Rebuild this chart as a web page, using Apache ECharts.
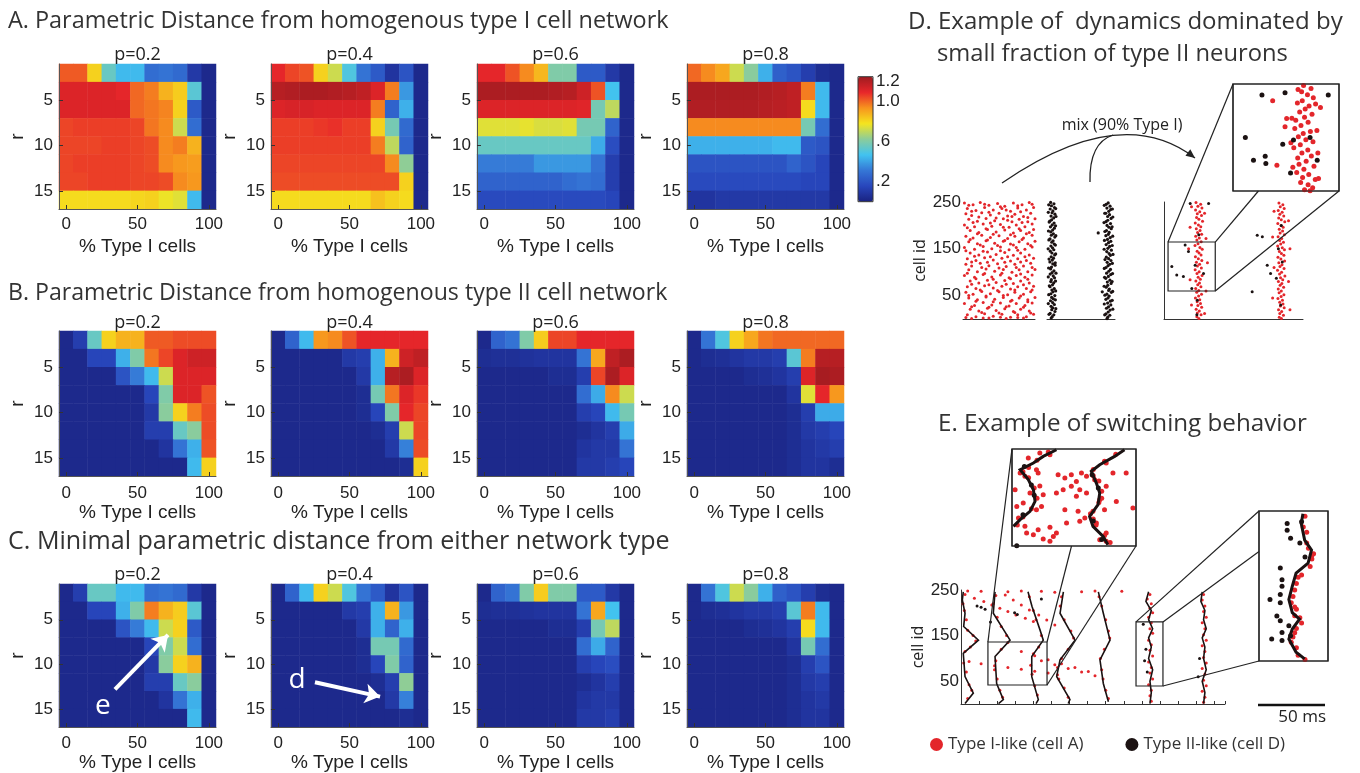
<!DOCTYPE html>
<html><head><meta charset="utf-8">
<script src="https://cdn.jsdelivr.net/npm/echarts@6/dist/echarts.min.js"></script>
<style>html,body{margin:0;padding:0;background:#fff}#c{width:1360px;height:773px}</style>
</head><body><div id="c"></div>
<script>
// ---------------- data ----------------
const xCats = [0,10,20,30,40,50,60,70,80,90,100];
const rCats = [2,4,6,8,10,12,14,16];
const xTicks = [0,50,100];
const rTicks = [5,10,15];
const cbTicks = [0.2,0.6,1.0,1.2];
const cbLabels = ['.2','.6','1.0','1.2'];
const idTicks = [50,150,250];
const pLabels = ['p=0.2','p=0.4','p=0.6','p=0.8'];
const headings = ['A. Parametric Distance from homogenous type I cell network',
  'B. Parametric Distance from homogenous type II cell network',
  'C. Minimal parametric distance from either network type'];
const dTitle = ['D. Example of  dynamics dominated by','small fraction of type II neurons'];
const eTitle = 'E. Example of switching behavior';
const mixLabel = 'mix (90% Type I)';
const scaleLabel = '50 ms';
const scaleMs = 50;
const xName = '% Type I cells';
const legendNames = ['Type I-like (cell A)','Type II-like (cell D)'];

// A: distance from homogenous type I network (rows r=2..16, cols 0..100%)
const A1 = [
[1.02,1.02,0.82,0.55,0.45,0.45,0.28,0.30,0.27,0.10,0.03],
[1.12,1.12,1.12,1.12,1.10,1.00,0.97,0.88,0.83,0.52,0.03],
[1.12,1.12,1.12,1.12,1.12,1.00,0.98,0.96,0.82,0.22,0.03],
[1.05,1.06,1.06,1.06,1.06,1.05,0.98,0.95,0.72,0.28,0.03],
[1.05,1.05,1.05,1.06,1.06,1.05,1.04,0.95,0.97,0.88,0.03],
[1.05,1.06,1.06,1.06,1.06,1.05,1.04,0.95,0.93,0.92,0.03],
[1.05,1.05,1.06,1.06,1.06,1.05,1.05,1.04,0.95,0.93,0.03],
[0.80,0.80,0.80,0.80,0.80,0.81,0.82,0.77,0.75,0.45,0.03]];
const A2 = [
[1.10,1.05,1.03,0.82,0.72,0.50,0.30,0.22,0.08,0.20,0.03],
[1.20,1.21,1.22,1.22,1.21,1.20,1.18,1.12,0.97,0.38,0.03],
[1.12,1.13,1.13,1.12,1.12,1.12,1.12,0.97,0.25,0.43,0.03],
[1.06,1.06,1.06,1.07,1.08,1.06,1.06,0.82,0.58,0.27,0.03],
[1.06,1.06,1.06,1.06,1.06,1.06,1.06,0.97,0.70,0.25,0.03],
[1.05,1.05,1.05,1.05,1.05,1.05,1.05,1.05,0.95,0.63,0.03],
[1.04,1.04,1.04,1.04,1.04,1.04,1.04,1.04,1.04,0.82,0.03],
[0.80,0.80,0.80,0.80,0.80,0.80,0.80,0.85,0.82,0.80,0.03]];
const A3 = [
[1.10,1.10,1.03,0.95,0.87,0.60,0.60,0.22,0.22,0.10,0.03],
[1.22,1.22,1.22,1.22,1.22,1.21,1.20,1.15,1.03,0.47,0.03],
[1.12,1.12,1.12,1.12,1.12,1.12,1.12,1.11,0.58,0.70,0.03],
[0.75,0.75,0.75,0.76,0.74,0.74,0.75,0.58,0.58,0.25,0.03],
[0.55,0.55,0.55,0.55,0.55,0.55,0.55,0.55,0.42,0.18,0.03],
[0.32,0.32,0.32,0.32,0.38,0.38,0.38,0.38,0.30,0.12,0.03],
[0.25,0.25,0.25,0.25,0.25,0.25,0.28,0.30,0.28,0.12,0.03],
[0.17,0.17,0.17,0.17,0.17,0.17,0.17,0.17,0.17,0.15,0.03]];
const A4 = [
[1.00,0.95,0.90,0.72,0.62,0.43,0.24,0.20,0.12,0.05,0.03],
[1.22,1.22,1.22,1.22,1.22,1.21,1.20,1.18,0.97,0.45,0.03],
[1.21,1.21,1.21,1.21,1.21,1.20,1.19,1.18,0.80,0.45,0.03],
[0.95,0.95,0.95,0.95,0.95,0.95,0.95,0.95,0.58,0.28,0.03],
[0.43,0.43,0.43,0.43,0.43,0.43,0.45,0.45,0.22,0.20,0.03],
[0.20,0.20,0.20,0.20,0.20,0.20,0.20,0.25,0.20,0.15,0.03],
[0.17,0.17,0.17,0.17,0.17,0.17,0.17,0.17,0.15,0.15,0.03],
[0.08,0.08,0.10,0.10,0.10,0.10,0.10,0.10,0.10,0.10,0.03]];
// B: distance from homogenous type II network
const B1 = [
[0.03,0.12,0.55,0.82,0.88,0.88,1.02,1.02,1.04,1.04,1.04],
[0.03,0.03,0.15,0.15,0.43,0.60,0.98,1.05,1.12,1.15,1.15],
[0.03,0.03,0.03,0.03,0.20,0.32,0.45,0.72,1.12,1.12,1.12],
[0.03,0.03,0.03,0.03,0.03,0.03,0.15,0.60,1.12,1.12,1.03],
[0.03,0.03,0.03,0.03,0.03,0.03,0.10,0.62,0.82,0.97,1.04],
[0.03,0.03,0.03,0.03,0.03,0.03,0.12,0.12,0.55,0.62,1.04],
[0.03,0.03,0.03,0.03,0.03,0.03,0.03,0.08,0.30,0.43,1.03],
[0.03,0.03,0.03,0.03,0.03,0.03,0.03,0.03,0.03,0.45,0.82]];
const B2 = [
[0.03,0.25,0.45,0.93,0.95,1.03,1.10,1.10,1.10,1.10,1.10],
[0.03,0.03,0.03,0.03,0.03,0.10,0.12,0.43,0.88,1.15,1.18],
[0.03,0.03,0.03,0.03,0.03,0.03,0.10,0.43,1.20,1.22,1.12],
[0.03,0.03,0.03,0.03,0.03,0.03,0.05,0.58,0.98,1.12,1.07],
[0.03,0.03,0.03,0.03,0.03,0.03,0.05,0.15,0.60,1.10,1.05],
[0.03,0.03,0.03,0.03,0.03,0.03,0.03,0.05,0.12,0.72,1.05],
[0.03,0.03,0.03,0.03,0.03,0.03,0.03,0.03,0.10,0.33,1.04],
[0.03,0.03,0.03,0.03,0.03,0.03,0.03,0.03,0.03,0.05,0.82]];
const B3 = [
[0.03,0.25,0.30,0.60,0.83,1.05,1.05,1.10,1.10,1.10,1.10],
[0.05,0.06,0.06,0.07,0.08,0.08,0.08,0.30,0.90,1.18,1.22],
[0.03,0.03,0.03,0.03,0.03,0.05,0.05,0.12,1.05,1.22,1.12],
[0.03,0.03,0.03,0.03,0.03,0.03,0.03,0.28,0.42,0.95,0.72],
[0.03,0.03,0.03,0.03,0.03,0.03,0.03,0.12,0.15,0.45,0.58],
[0.03,0.03,0.03,0.03,0.03,0.03,0.03,0.05,0.08,0.12,0.42],
[0.03,0.03,0.03,0.03,0.03,0.03,0.03,0.08,0.10,0.10,0.30],
[0.03,0.03,0.03,0.03,0.03,0.03,0.03,0.10,0.10,0.12,0.15]];
const B4 = [
[0.03,0.30,0.50,0.82,0.90,0.98,1.00,1.00,1.00,1.00,1.00],
[0.03,0.05,0.06,0.08,0.10,0.10,0.12,0.52,0.97,1.20,1.20],
[0.03,0.03,0.03,0.03,0.05,0.06,0.08,0.12,1.12,1.23,1.22],
[0.03,0.03,0.03,0.03,0.03,0.03,0.03,0.08,0.75,1.10,0.93],
[0.03,0.03,0.03,0.03,0.03,0.03,0.03,0.05,0.12,0.42,0.42],
[0.03,0.03,0.03,0.03,0.03,0.03,0.03,0.05,0.10,0.12,0.15],
[0.03,0.03,0.03,0.03,0.03,0.03,0.03,0.05,0.08,0.10,0.12],
[0.03,0.03,0.03,0.03,0.03,0.03,0.03,0.05,0.08,0.08,0.05]];
// C: minimal distance from either network type
const C1 = [
[0.03,0.12,0.55,0.55,0.45,0.45,0.28,0.30,0.27,0.10,0.03],
[0.03,0.03,0.15,0.15,0.43,0.60,0.97,0.88,0.83,0.52,0.03],
[0.03,0.03,0.03,0.03,0.20,0.32,0.45,0.72,0.82,0.22,0.03],
[0.03,0.03,0.03,0.03,0.03,0.03,0.15,0.60,0.72,0.28,0.03],
[0.03,0.03,0.03,0.03,0.03,0.03,0.10,0.62,0.82,0.88,0.03],
[0.03,0.03,0.03,0.03,0.03,0.03,0.12,0.12,0.55,0.62,0.03],
[0.03,0.03,0.03,0.03,0.03,0.03,0.03,0.08,0.30,0.43,0.03],
[0.03,0.03,0.03,0.03,0.03,0.03,0.03,0.03,0.03,0.45,0.03]];
const C2 = [
[0.03,0.25,0.45,0.82,0.72,0.50,0.30,0.22,0.08,0.20,0.03],
[0.03,0.03,0.03,0.03,0.03,0.10,0.12,0.43,0.88,0.38,0.03],
[0.03,0.03,0.03,0.03,0.03,0.03,0.10,0.43,0.25,0.43,0.03],
[0.03,0.03,0.03,0.03,0.03,0.03,0.05,0.58,0.58,0.27,0.03],
[0.03,0.03,0.03,0.03,0.03,0.03,0.05,0.15,0.60,0.25,0.03],
[0.03,0.03,0.03,0.03,0.03,0.03,0.03,0.05,0.12,0.63,0.03],
[0.03,0.03,0.03,0.03,0.03,0.03,0.03,0.03,0.10,0.33,0.03],
[0.03,0.03,0.03,0.03,0.03,0.03,0.03,0.03,0.03,0.05,0.03]];
const C3 = [
[0.03,0.25,0.30,0.60,0.83,0.60,0.60,0.22,0.22,0.10,0.03],
[0.05,0.06,0.06,0.07,0.08,0.08,0.08,0.30,0.90,0.47,0.03],
[0.03,0.03,0.03,0.03,0.03,0.05,0.05,0.12,0.58,0.70,0.03],
[0.03,0.03,0.03,0.03,0.03,0.03,0.03,0.28,0.42,0.25,0.03],
[0.03,0.03,0.03,0.03,0.03,0.03,0.03,0.12,0.15,0.18,0.03],
[0.03,0.03,0.03,0.03,0.03,0.03,0.03,0.05,0.08,0.12,0.03],
[0.03,0.03,0.03,0.03,0.03,0.03,0.03,0.08,0.10,0.10,0.03],
[0.03,0.03,0.03,0.03,0.03,0.03,0.03,0.10,0.10,0.12,0.03]];
const C4 = [
[0.03,0.30,0.50,0.72,0.62,0.43,0.24,0.20,0.12,0.05,0.03],
[0.03,0.05,0.06,0.08,0.10,0.10,0.12,0.52,0.97,0.45,0.03],
[0.03,0.03,0.03,0.03,0.05,0.06,0.08,0.12,0.80,0.45,0.03],
[0.03,0.03,0.03,0.03,0.03,0.03,0.03,0.08,0.58,0.28,0.03],
[0.03,0.03,0.03,0.03,0.03,0.03,0.03,0.05,0.12,0.20,0.03],
[0.03,0.03,0.03,0.03,0.03,0.03,0.03,0.05,0.10,0.12,0.03],
[0.03,0.03,0.03,0.03,0.03,0.03,0.03,0.05,0.08,0.10,0.03],
[0.03,0.03,0.03,0.03,0.03,0.03,0.03,0.05,0.08,0.08,0.03]];

// annotation arrows in panel C (x = % type I, y = r)
const arrowE = [[34.2,12.8],[71.4,6.7]];
const arrowD = [[25.8,12.0],[71.4,13.6]];
const labelE = [25.8,14.7];
const labelD = [13.2,11.8];

// D: raster spike data (time units, cell id)
const dTypeI = [
[1,248],[7,244],[12,249],[18,243],[24,247],[29,241],[35,248],[41,244],[46,249],
[3,236],[9,232],[15,238],[21,233],[27,236],[33,230],[38,237],[44,233],[49,238],
[2,225],[6,221],[13,227],[19,222],[25,226],[31,220],[36,224],[42,219],[47,226],
[4,213],[10,209],[16,215],[22,210],[28,214],[34,208],[39,213],[45,208],[50,214],
[1,201],[8,197],[14,203],[20,198],[26,202],[32,196],[37,201],[43,197],[48,203],
[5,189],[11,185],[17,191],[23,186],[29,190],[35,184],[40,189],[46,185],
[2,177],[7,173],[13,179],[19,174],[25,178],[31,172],[36,177],[42,173],[48,179],
[4,165],[10,161],[16,167],[22,162],[28,166],[33,160],[39,165],[45,161],[50,166],
[1,153],[8,149],[14,155],[20,150],[26,154],[32,148],[37,153],[43,149],[48,154],
[5,141],[11,137],[17,143],[23,138],[29,142],[35,136],[40,141],[46,137],
[3,129],[9,125],[15,131],[21,126],[27,130],[33,124],[38,129],[44,125],[49,130],
[2,117],[6,113],[12,119],[18,114],[24,118],[30,112],[36,117],[42,113],[47,119],
[4,105],[10,101],[16,107],[22,102],[28,106],[34,100],[39,105],[45,101],[50,106],
[1,93],[8,89],[14,95],[20,90],[26,94],[32,88],[37,93],[43,89],[48,94],
[5,81],[11,77],[17,83],[23,78],[29,82],[35,76],[40,81],[46,77],
[3,69],[9,65],[15,71],[21,66],[27,70],[33,64],[38,69],[44,65],[49,70],
[2,57],[7,53],[13,59],[19,54],[25,58],[31,52],[36,57],[42,53],[47,58],
[4,45],[10,41],[16,47],[22,42],[28,46],[34,40],[39,45],[45,41],[50,46],
[1,33],[8,29],[14,35],[20,30],[26,34],[32,28],[37,33],[43,29],[48,34],
[5,21],[11,17],[17,23],[23,18],[29,22],[35,16],[40,21],[46,17],
[3,9],[9,5],[15,11],[21,6],[27,10],[33,4],[38,9],[44,5],[49,10],
[6,1],[18,2],[30,1],[42,2],
[4,243],[15,245],[26,240],[38,242],[48,245],[6,230],[18,228],[30,233],[40,229],[11,218],[23,216],[34,219],[45,217],
[7,206],[19,205],[31,211],[41,206],[3,195],[16,193],[28,196],[39,193],[49,191],[10,182],[21,181],[33,180],[44,182],
[5,170],[17,169],[29,168],[41,170],[12,158],[24,157],[35,158],[47,157],[2,146],[14,145],[26,146],[38,147],
[8,134],[19,133],[31,133],[43,133],[6,122],[17,121],[29,121],[40,122],[13,110],[25,109],[37,110],[48,110],
[3,98],[15,97],[27,98],[40,96],[9,86],[21,85],[33,86],[45,85],[6,74],[18,73],[30,74],[42,73],
[12,62],[24,61],[36,62],[48,62],[4,50],[16,49],[28,50],[40,49],[9,38],[21,37],[33,38],[45,37],
[6,26],[18,25],[30,26],[42,25],[13,14],[25,13],[36,14],[47,13],[2,3],[14,2],[26,4],[38,3]];
const dTypeII = [
[2.5,249],[4.8,246],[3.1,242],[5.2,238],[2.2,235],[4.1,231],[3.5,227],[5.5,224],[2.8,220],[4.6,216],[3.2,212],[1.9,209],
[4.9,205],[3.6,201],[2.4,197],[5.1,194],[3.9,190],[2.6,186],[4.4,182],[3.0,179],[5.4,175],[2.1,171],[4.2,167],[3.3,164],
[5.0,160],[2.7,156],[3.8,152],[4.7,148],[2.3,145],[3.4,141],[5.3,137],[2.9,133],[4.5,130],[3.7,126],[2.0,122],[4.0,118],
[5.6,115],[3.1,111],[2.5,107],[4.8,103],[3.5,99],[2.2,96],[4.3,92],[5.2,88],[3.0,84],[2.6,80],[4.6,77],[3.8,73],
[2.1,69],[5.0,65],[3.4,62],[4.1,58],[2.7,54],[5.4,50],[3.2,46],[4.4,43],[2.4,39],[3.9,35],[5.1,31],[2.8,27],
[4.0,24],[3.3,20],[5.5,16],[2.2,12],[4.7,9],[3.6,5],[2.9,2],
[1.2,244],[6.0,236],[0.9,228],[6.2,219],[1.5,207],[5.9,199],[1.0,188],[6.1,178],[1.3,169],[5.8,158],[0.8,150],[6.0,139],
[1.4,128],[5.7,120],[1.1,109],[6.2,98],[0.9,90],[5.9,81],[1.6,71],[6.0,60],[1.2,52],[5.8,41],[0.9,33],[6.1,22],[1.4,10],
[42.3,248],[40.9,245],[43.6,241],[41.4,237],[44.0,234],[42.7,230],[40.6,226],[43.2,223],[41.9,219],[44.3,215],[42.0,211],[40.8,208],
[43.9,204],[41.5,200],[42.8,196],[44.4,193],[41.1,189],[43.0,185],[42.4,181],[40.7,178],[43.7,174],[41.8,170],[44.1,166],[42.5,163],
[40.9,159],[43.3,155],[42.1,151],[44.5,147],[41.3,144],[42.9,140],[43.8,136],[41.0,132],[42.6,129],[44.2,125],[41.6,121],[43.4,117],
[42.2,114],[40.8,110],[43.9,106],[42.7,102],[41.2,98],[44.0,95],[42.4,91],[40.6,87],[43.5,83],[41.7,79],[44.3,76],[42.0,72],
[40.9,68],[43.1,64],[42.6,61],[44.5,57],[41.4,53],[43.0,49],[42.2,45],[40.7,42],[43.8,38],[41.9,34],[44.1,30],[42.5,26],
[41.1,23],[43.6,19],[42.3,15],[40.8,11],[43.4,8],[42.0,4],[41.5,1],
[39.6,243],[45.2,235],[39.9,226],[45.5,218],[39.4,206],[45.0,197],[40.0,187],[45.4,177],[39.7,168],[45.1,157],[39.5,149],[45.6,138],
[40.1,127],[45.2,119],[39.6,108],[45.3,97],[39.8,89],[45.0,80],[39.5,70],[45.4,59],[40.0,51],[45.1,40],[39.6,32],[45.5,21],[39.9,9],
[35.4,184],[38.2,58]];
const dMixRed = [
[22.1,249],[25.3,245],[23.4,241],[26.2,237],[21.8,233],[24.7,229],[23.0,225],[25.9,221],[22.5,217],[24.1,213],[26.6,209],[21.6,205],
[23.8,201],[25.4,197],[22.3,193],[24.9,189],[23.2,185],[26.0,181],[21.9,177],[24.4,173],[22.7,169],[25.7,165],[23.5,161],[21.4,157],
[24.8,153],[26.4,149],[22.9,145],[24.2,141],[25.6,137],[21.7,133],[23.7,129],[26.1,125],[22.4,121],[24.6,117],[23.1,113],[25.8,109],
[21.5,105],[24.3,101],[22.8,97],[26.3,93],[23.6,89],[25.1,85],[22.0,81],[24.5,77],[23.3,73],[25.5,69],[21.9,65],[24.0,61],
[22.6,57],[25.9,53],[23.9,49],[21.7,45],[24.7,41],[22.9,37],[25.2,33],[23.4,29],[26.0,25],[22.2,21],[24.4,17],[23.0,13],
[25.6,9],[22.7,5],[24.1,1],
[19,240],[28,226],[18,196],[29,172],[17,150],[30,120],[18,84],[29,60],[19,30],[28,12],
[79.4,248],[82.1,244],[80.3,240],[83.0,236],[78.9,232],[81.6,228],[80.0,224],[82.7,220],[79.2,216],[81.0,212],[83.4,208],[78.6,204],
[80.8,200],[82.3,196],[79.6,192],[81.9,188],[80.2,184],[83.1,180],[78.8,176],[81.3,172],[79.9,168],[82.5,164],[80.6,160],[78.5,156],
[81.7,152],[83.2,148],[79.7,144],[81.1,140],[82.8,136],[78.7,132],[80.7,128],[83.3,124],[79.3,120],[81.5,116],[80.1,112],[82.9,108],
[78.4,104],[81.2,100],[79.8,96],[83.5,92],[80.5,88],[82.0,84],[79.0,80],[81.4,76],[80.2,72],[82.6,68],[78.9,64],[81.0,60],
[79.5,56],[82.8,52],[80.9,48],[78.7,44],[81.8,40],[79.9,36],[82.2,32],[80.4,28],[83.0,24],[79.1,20],[81.3,16],[80.0,12],
[82.5,8],[79.6,4],[81.1,1],
[76,230],[86,210],[75,175],[87,150],[76,110],[86,80],[75,45],[87,20]];
const dMixBlack = [
[18.1,247],[30.8,247],[14.6,158],[5.4,112],[8.8,94],[13.4,91],[16.9,144],[21.5,115],[27.3,97],[19.2,65],
[64.4,179],[67.9,176],[71.3,115],[73.6,97],[77.6,87],[60.9,58],[80.6,30],[22.7,9],[81.7,122],[24,180],[23,40],[81,200],[79,150]];
const dBox = {t:[2.8,35.4], id:[59.8,164.5]};
const dZoomRed = [
[24.5,163],[26.8,160],[23.9,157],[25.7,154],[27.5,151],[24.1,148],[22.6,146],[26.2,143],[25,140],[23.3,137],[27.1,135],[24.8,132],
[22.1,129],[25.9,127],[23.7,124],[21.8,121],[26.6,118],[24.4,116],[22.9,113],[25.2,110],[27.4,108],[23.5,105],[21.5,102],[25.8,100],
[24,97],[26.9,94],[22.7,92],[25.3,89],[23.1,86],[27.7,84],[24.6,81],[22.4,78],[26.1,76],[24.2,73],[28.1,71],[23.6,68],
[25.9,66],[27.3,63],[24.8,61],[26.5,60],[22.8,159],[28.2,145],[20.9,131],[28.6,119],[20.6,107],[28.9,97],[21.2,83],[29.1,72],
[15.0,148.2],[19.3,130.8],[29.7,141.6],[16.3,85],[18.8,122.6]];
const dZoomBlack = [
[11.7,153.7],[18.8,156],[32.1,153.7],[6.6,112.2],[18.1,105.6],[26.5,112.2],[9.1,90],[12.7,93.9],[12.9,86.7],[28.7,90],[20.5,77.5],[21.4,109.6]];

// E: switching behavior raster (ms, cell id)
const eWaves = [
[[1.7,246],[1,228],[3,199],[2,170],[13,140],[1.7,111],[3,60],[9.2,24],[3,1]],
[[25.4,246],[24.1,199],[36.6,140],[25.4,104],[26.6,45],[31.6,9.6],[28,1]],
[[50,246],[53,214],[59,162],[61.4,140],[52.8,104],[52.8,60],[57.7,9.6],[56,1]],
[[76.4,246],[73.9,199],[85.1,140],[73.9,97],[71.4,60],[81.3,9.6],[80,1]],
[[102.5,246],[106.2,199],[111.2,140],[103.7,97],[106.2,45],[110,5]],
[[140,246],[138,225],[142,205],[140,185],[143,165],[140,145],[142,125],[140,100],[143,75],[141,50],[142,25],[141,1]],
[[180,246],[179,225],[182,205],[181,185],[183,165],[180,145],[182,125],[181,100],[183,75],[180,50],[182,25],[181,1]]];
const eRed = [
[3,240],[1.5,220],[2.5,205],[4,185],[5,162],[9,150],[11,138],[7,125],[3,115],[2,90],[4,70],[6,42],[8,30],[5,12],
[26,238],[24,220],[27,190],[30,170],[34,150],[35,135],[30,120],[26,95],[25,75],[27,55],[29,30],[31,15],
[51,235],[54,205],[56,185],[60,150],[58,125],[54,110],[52,85],[53,65],[55,40],[57,20],
[75,235],[74,215],[77,185],[82,160],[84,145],[80,120],[75,100],[72,80],[73,55],[77,35],[80,15],
[103,235],[105,215],[108,185],[110,160],[111,145],[107,120],[104,100],[105,75],[106,55],[108,30],[110,12],
[10,232],[17,225],[23,217],[29,210],[35,203],[41,195],[48,188],[54,181],[33,239],[39,228],[45,217],[51,206],[58,195],[64,184],[70,173],
[6,93],[15,88],[25,84],[35,80],[45,76],[55,72],[65,68],[72,64],[45,115],[55,106],[65,97],[75,88],[85,80],[95,71],
[60,95],[70,86],[80,78],[90,70],[100,62],
[5,248],[15,247],[35,246],[45,248],[60,247],[70,245],[90,246],[100,248],[120,247],
[141,240],[139,230],[142,220],[141,210],[143,200],[140,190],[142,178],[141,165],[143,155],[140,140],[142,130],[141,118],[143,105],[140,92],
[142,80],[141,68],[143,55],[140,42],[142,30],[141,18],[142,6],
[181,240],[180,228],[182,215],[181,203],[183,190],[180,178],[182,165],[181,152],[183,140],[180,128],[182,115],[181,102],[183,90],[180,78],
[182,65],[181,52],[183,40],[180,28],[182,15],[181,4]];
const eBlack = [[136,175],[138,120],[137,95],[139,70],[178,100],[177,60],[12,215],[15,212],[18,208],[40,200],[42,196],[22,180],[60,230]];
const eBox1 = {t:[20.1,64.2], id:[41.7,136]};
const eBox2 = {t:[130.6,150.7], id:[39.5,180]};
const eZoom1Waves = [
[[35.9,135.3],[31.2,128.8],[27.7,122.4],[23,115.9],[25.9,106.2],[27.7,96.4],[28.3,85.1],[26.5,75.4],[23,67.3],[20.6,60.8]],
[[60.1,135.3],[56.6,128.8],[51.3,120.7],[48.3,114.3],[50.1,102.9],[51.3,93.2],[50.7,81.9],[47.7,70.5],[48.9,60.8],[52.5,51.1],[54.2,43]]];
const eZoom1Red = [
[30,132],[33.6,130.5],[23,112.6],[24.7,109.4],[29.4,112.6],[36.5,111],[38.9,107.8],[41.2,111],[43,104.5],[44.8,112.6],[46.6,109.4],
[56,112.6],[60.7,112.6],[38.3,96.4],[41.2,99.7],[44.2,96.4],[53.6,99.7],[31.2,91.6],[35.9,93.2],[43,90],[46.6,93.2],[38.9,77],
[43.6,75.4],[46,69],[53,77],[57.2,85],[63.1,78.6],[30.6,80.2],[29.4,57.6],[33.6,60],[35.9,54.3],[39.5,64],[44.2,65.7],[27.7,52.7],
[31.2,48.5],[33.6,46.2],[34.8,51],[51.3,47.8],[53.6,46.2],[25.3,54.3],[28.8,115.9],[21.8,80.2],[24.1,83.5],[21.2,96.4],[26.5,93.2],
[25.9,127.2],[53.6,122.4],[49.5,106.2],[51.3,86.7],[48.9,75.4],[50.1,64],[53.6,54.3],[22.4,68.9],[24.7,60.8],[28.8,77],
[24,114],[26,108],[28,98],[29,88],[27,78],[24,70],[22,62],[33,133],[29,125],[57,131],[53,124],[49,116],[51,105],[52,95],
[51,84],[48,73],[50,62],[53,52],[55,45],[26,118],[30,100],[49,110],[52,88],[49,68]];
const eZoom1Black = [[21.8,42],[24.5,119],[27,101],[28,91],[24,72],[48.6,111],[50.8,98],[49,66],[52,48]];
const eZoom2Wave = [[143.4,177.5],[142.9,168.3],[143.9,152.8],[145.9,143.5],[144.9,131.2],[141.4,121.9],[140.3,109.5],
[139.3,97.2],[140.3,84.8],[142.4,78.6],[140.3,69.4],[139.3,60.1],[141.4,47.7],[143.9,41.5]];
const eZoom2Red = [
[144,175],[143.5,165],[144.5,150],[146.5,140],[145.5,128],[142,118],[141,106],[140,94],[141,82],[143,75],[141,66],[140,57],[142,45],[144,41],
[145,145],[146,135],[143,120],[141.5,112],[140.5,100],[141.5,88],[142.5,80],[141.5,70],[140.5,62],[141.5,52],[144.5,160],[146,138],[141,90]];
const eZoom2Black = [
[138.8,168.3],[138.8,162],[139.8,154.4],[136.8,126.5],[137.3,115.7],[137.3,109.5],[136.8,101.8],[133.8,97.2],[136.8,94.1],
[135.8,81.7],[136.8,77.1],[134.3,60.1],[137.3,66.3],[137.3,58.6],[139.3,72.5],[139.8,63.2],[143,170],[142.5,150],[144,137]];

// ---------------- layout & style ----------------
const colLeft = [59,271,477,687], cellW = 157, cellH = 145, rowTop = [64,331,584];
const nameGaps = [28,23,26], labelMargins = [7,9,8], pTitleY = [55,323,575], headY = [21,293,542];
const jet = ['#1a2280','#2846bc','#3577d6','#41c3f0','#8ccc9a','#f5e51e','#f7941e','#e8262a','#9e1b20'];
const RED = '#e3262b', BLK = '#1b1212';
const SANS = 'Liberation Sans, Arial, sans-serif';
const HUM = '"Open Sans", "Noto Sans", sans-serif';
const tick = {fontFamily:SANS, fontSize:17, color:'#222'};

const chart = echarts.init(document.getElementById('c'), null, {renderer:'canvas', width:1360, height:773});
const grids=[], xAxes=[], yAxes=[], series=[];
const addGrid = g => (grids.push(g), grids.length-1);
const addX = a => (xAxes.push(a), xAxes.length-1);
const addY = a => (yAxes.push(a), yAxes.length-1);

const panels = [[A1,A2,A3,A4],[B1,B2,B3,B4],[C1,C2,C3,C4]];
const heatIdx = [], heatAx = [];
panels.forEach((row,i)=>row.forEach((M,j)=>{
  const g = addGrid({left:colLeft[j], top:rowTop[i], width:cellW, height:cellH});
  const cx = addX({type:'category', gridIndex:g, data:xCats, show:false});
  const cy = addY({type:'category', gridIndex:g, data:rCats, inverse:true, show:false});
  const vx = addX({type:'value', gridIndex:g, position:'bottom', min:-5, max:105, z:5,
    axisLine:{show:true, onZero:false, lineStyle:{color:'#555', width:1}},
    axisTick:{show:true, inside:true, length:4, customValues:xTicks, lineStyle:{color:'#333'}},
    axisLabel:Object.assign({customValues:xTicks, margin:labelMargins[i]}, tick),
    splitLine:{show:false}, name:xName, nameLocation:'middle', nameGap:nameGaps[i],
    nameTextStyle:{fontFamily:SANS, fontSize:19, color:'#222'}});
  const vy = addY({type:'value', gridIndex:g, position:'left', min:1, max:17, inverse:true, z:5,
    axisLine:{show:true, onZero:false, lineStyle:{color:'#555', width:1}},
    axisTick:{show:true, inside:true, length:4, customValues:rTicks, lineStyle:{color:'#333'}},
    axisLabel:Object.assign({customValues:rTicks, margin:6}, tick),
    splitLine:{show:false}, name:'r', nameLocation:'middle', nameGap:32, nameRotate:90,
    nameTextStyle:{fontFamily:SANS, fontSize:19, color:'#222'}});
  const data=[]; M.forEach((rv,ri)=>rv.forEach((v,ci)=>data.push([ci,ri,v])));
  heatIdx.push(series.length);
  series.push({type:'heatmap', xAxisIndex:cx, yAxisIndex:cy, data, itemStyle:{borderWidth:0}, silent:true, progressive:0});
  heatAx.push({xi:vx, yi:vy});
}));

// colour bar axis
const gcb = addGrid({left:858, top:76.7, width:15, height:125});
const xcb = addX({type:'value', gridIndex:gcb, show:false, min:0, max:1});
const ycb = addY({type:'value', gridIndex:gcb, position:'right', min:0, max:1.25,
  axisLine:{show:false}, axisTick:{show:false}, splitLine:{show:false},
  axisLabel:Object.assign({customValues:cbTicks, margin:3, formatter:v=>{const k=cbTicks.findIndex(c=>Math.abs(c-v)<1e-6);return k<0?'':cbLabels[k];}}, tick)});

// arrows in panel C
[[arrowE,8],[arrowD,9]].forEach(([arr,gi])=>{
  const ax = heatAx[gi];
  series.push({type:'lines', coordinateSystem:'cartesian2d', xAxisIndex:ax.xi, yAxisIndex:ax.yi, z:6, silent:true,
    symbol:['none','arrow'], symbolSize:[0,15], lineStyle:{color:'#fff', width:4, opacity:1, curveness:0},
    data:[{coords:arr}]});
});

function rasterGrid(g, xr, yr, opts){
  const gi = addGrid(Object.assign({}, g));
  const xi = addX({type:'value', gridIndex:gi, min:xr[0], max:xr[1], show:opts.show!==false,
    axisLine:{show:!!opts.xLine, onZero:false, lineStyle:{color:'#333', width:1}},
    axisTick:{show:!!opts.xTick, inside:true, length:3, lineStyle:{color:'#333'}}, interval:opts.xInterval,
    axisLabel:{show:false}, splitLine:{show:false}});
  const yi = addY({type:'value', gridIndex:gi, min:yr[0], max:yr[1], show:opts.show!==false,
    axisLine:{show:!!opts.yLine, onZero:false, lineStyle:{color:'#333', width:1}}, axisTick:{show:false},
    axisLabel:opts.yLabels?Object.assign({customValues:idTicks, margin:2}, tick):{show:false}, splitLine:{show:false},
    name:opts.yName||'', nameLocation:'middle', nameGap:opts.nameGap||30, nameRotate:90,
    nameTextStyle:{fontFamily:HUM, fontSize:16, color:'#222'}});
  return {gi,xi,yi};
}
function scat(ax, data, color, size, name){
  series.push({type:'scatter', name:name, xAxisIndex:ax.xi, yAxisIndex:ax.yi, data, symbolSize:size, silent:true,
    itemStyle:{color:color, opacity:1}, z:3});
}
function wave(ax, list, width){
  series.push({type:'lines', coordinateSystem:'cartesian2d', polyline:true, xAxisIndex:ax.xi, yAxisIndex:ax.yi, silent:true, z:4,
    lineStyle:{color:BLK, width:width, opacity:1}, data:list.map(c=>({coords:c}))});
}

const dL = rasterGrid({left:963, top:202, width:72, height:117}, [0,50], [0,250], {xLine:true, yLabels:true, yName:'cell id', nameGap:29});
const dM = rasterGrid({left:1047, top:202, width:68, height:117}, [0,47], [0,250], {xLine:true});
const dR = rasterGrid({left:1164, top:202, width:139, height:117}, [0,96], [0,250], {xLine:true, yLine:true});
const dZ = rasterGrid({left:1233, top:84, width:106, height:107, show:true, borderColor:'#222', borderWidth:1.2, backgroundColor:'#fff'}, dBox.t, dBox.id, {show:false});
const eM = rasterGrid({left:961, top:590, width:264, height:114}, [0,197], [0,250], {xLine:true, yLine:true, xTick:true, xInterval:13.5, yLabels:true, yName:'cell id', nameGap:31});
const eZ1 = rasterGrid({left:1012, top:449, width:124, height:97, show:true, borderColor:'#222', borderWidth:1.2, backgroundColor:'#fff'}, eBox1.t, eBox1.id, {show:false});
const eZ2 = rasterGrid({left:1259, top:511, width:69, height:150, show:true, borderColor:'#222', borderWidth:1.2, backgroundColor:'#fff'}, eBox2.t, eBox2.id, {show:false});

scat(dL, dTypeI, RED, 3);
scat(dM, dTypeII, BLK, 3.2);
scat(dR, dMixRed, RED, 3);
scat(dR, dMixBlack, BLK, 3);
scat(dZ, dZoomRed, RED, 5);
scat(dZ, dZoomBlack, BLK, 5);
wave(eM, eWaves, 1.6);
scat(eM, eRed, RED, 3, legendNames[0]);
scat(eM, eBlack, BLK, 3, legendNames[1]);
wave(eZ1, eZoom1Waves, 3);
scat(eZ1, eZoom1Red, RED, 5, legendNames[0]);
scat(eZ1, eZoom1Black, BLK, 5, legendNames[1]);
wave(eZ2, [eZoom2Wave], 3);
scat(eZ2, eZoom2Red, RED, 5, legendNames[0]);
scat(eZ2, eZoom2Black, BLK, 5, legendNames[1]);

chart.setOption({
  animation:false, backgroundColor:'#fff',
  grid:grids, xAxis:xAxes, yAxis:yAxes, series,
  visualMap:{type:'continuous', min:0, max:1.25, seriesIndex:heatIdx, inRange:{color:jet}, calculable:false,
    left:858, top:76.7, itemWidth:15, itemHeight:125, padding:0, orient:'vertical', textStyle:{color:'transparent'}},
  legend:{left:930, top:736, padding:0, itemWidth:13, itemHeight:13, itemGap:42, selectedMode:false,
    data:legendNames.map(n=>({name:n, icon:'circle'})), textStyle:{fontFamily:HUM, fontSize:17, color:'#333'}}
});

// ---------------- annotations ----------------
const P = (ax, pt) => chart.convertToPixel({xAxisIndex:ax.xi, yAxisIndex:ax.yi}, pt);
const mctx = document.createElement('canvas').getContext('2d');
function fit(text, target){ mctx.font = '100px ' + HUM; return 100*target/mctx.measureText(text).width; }
const gfx = [];
function txt(s, x, y, size, align, color, rot){
  gfx.push({type:'text', x:x, y:y, rotation:rot||0, z:100, silent:true,
    style:{text:s, fontFamily:HUM, fontSize:size, fill:color||'#333', align:align||'left', verticalAlign:'middle'}});
}
function seg(a, b, w){ gfx.push({type:'line', z:100, silent:true, shape:{x1:a[0],y1:a[1],x2:b[0],y2:b[1]}, style:{stroke:'#222', lineWidth:w||1.2}}); }
function box(ax, bx){
  const tl = P(ax,[bx.t[0],bx.id[1]]), br = P(ax,[bx.t[1],bx.id[0]]);
  gfx.push({type:'rect', z:100, silent:true, shape:{x:tl[0],y:tl[1],width:br[0]-tl[0],height:br[1]-tl[1]}, style:{fill:'none', stroke:'#222', lineWidth:1.2}});
  return {tl, br, tr:[br[0],tl[1]], bl:[tl[0],br[1]]};
}
const headTargets = [661,660,662];
headings.forEach((h,i)=>txt(h, 8, headY[i], fit(h, headTargets[i])));
txt(dTitle[0], 908, 22, fit(dTitle[0], 435));
txt(dTitle[1], 937, 54, fit(dTitle[1], 351));
txt(eTitle, 938, 424, fit(eTitle, 369));
pTitleY.forEach((y,i)=>colLeft.forEach((l,j)=>txt(pLabels[j], l+cellW/2, y, 18, 'center', '#222')));
// arrow letters (positioned through the panel-C axes)
{ const pe = P(heatAx[8], labelE), pd = P(heatAx[9], labelD);
  txt('e', pe[0], pe[1], 28, 'center', '#fff'); txt('d', pd[0], pd[1], 28, 'center', '#fff'); }
// colour-bar outline
{ const a = chart.convertToPixel({xAxisIndex:xcb, yAxisIndex:ycb},[0,1.25]), b = chart.convertToPixel({xAxisIndex:xcb, yAxisIndex:ycb},[1,0]);
  gfx.push({type:'rect', z:100, silent:true, shape:{x:a[0],y:a[1],width:b[0]-a[0],height:b[1]-a[1]}, style:{fill:'none', stroke:'#333', lineWidth:1}}); }
// D zoom box and connectors
{ const b = box(dR, dBox); const z = box(dZ, dBox);
  seg(b.tl, z.tl); seg(b.tr, [z.tl[0]+0.24*(z.br[0]-z.tl[0]), z.br[1]]); seg(b.br, z.br); }
// E zoom boxes and connectors
{ const b = box(eM, eBox1); const z = box(eZ1, eBox1);
  seg(b.tl, z.tl); seg(b.tr, [z.tl[0]+0.48*(z.br[0]-z.tl[0]), z.br[1]]); seg(b.br, z.br); }
{ const b = box(eM, eBox2); const z = box(eZ2, eBox2);
  seg(b.tl, z.tl); seg(b.tr, [z.tl[0], z.tl[1]+0.27*(z.br[1]-z.tl[1])]); seg(b.br, z.bl); }
// D curved "mix" arrow
{ const s = [1002,183], c = [1121,101], e = [1195,158];
  gfx.push({type:'bezierCurve', z:100, silent:true, shape:{x1:s[0],y1:s[1],x2:e[0],y2:e[1],cpx1:c[0],cpy1:c[1]}, style:{fill:'none', stroke:'#222', lineWidth:1.3}});
  gfx.push({type:'bezierCurve', z:100, silent:true, shape:{x1:1090,y1:182,x2:1113,y2:135,cpx1:1089,cpy1:143}, style:{fill:'none', stroke:'#222', lineWidth:1.3}});
  const dx=e[0]-c[0], dy=e[1]-c[1], L=Math.hypot(dx,dy), ux=dx/L, uy=dy/L, hl=9, hw=4;
  gfx.push({type:'polygon', z:100, silent:true, shape:{points:[[e[0],e[1]],[e[0]-ux*hl-uy*hw, e[1]-uy*hl+ux*hw],[e[0]-ux*hl+uy*hw, e[1]-uy*hl-ux*hw]]}, style:{fill:'#222'}});
  txt(mixLabel, 1122, 125, 16, 'center', '#222');
}
// scale bar
{ const a = P(eM,[0,0]), b = P(eM,[scaleMs,0]); const len = b[0]-a[0];
  gfx.push({type:'line', z:100, silent:true, shape:{x1:1258,y1:705,x2:1258+len,y2:705}, style:{stroke:'#111', lineWidth:2.5}});
  txt(scaleLabel, 1258+len+1, 717, 17, 'right', '#222'); }
chart.setOption({graphic:gfx});
</script></body></html>
